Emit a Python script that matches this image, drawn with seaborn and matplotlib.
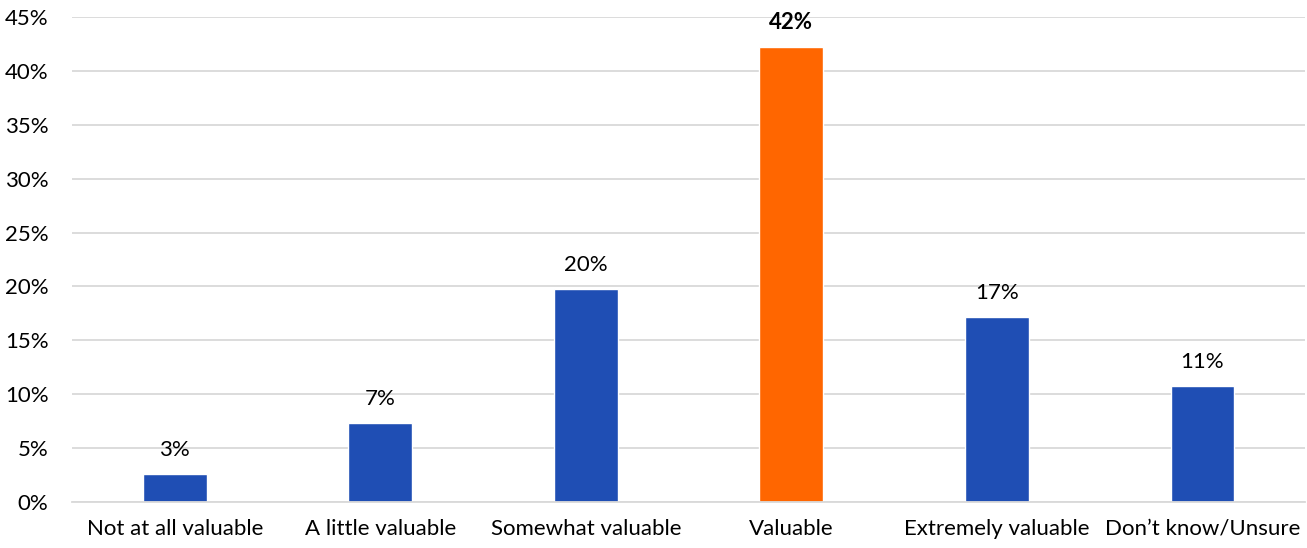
import matplotlib
matplotlib.use("Agg")
import matplotlib.pyplot as plt
import seaborn as sns
import numpy as np

categories = ["Not at all valuable", "A little valuable", "Somewhat valuable",
              "Valuable", "Extremely valuable", "Don\u2019t know/Unsure"]
shares = [2.6, 7.3, 19.8, 42.2, 17.2, 10.8]
highlight = "Valuable"
yticks = [0, 5, 10, 15, 20, 25, 30, 35, 40, 45]

BLUE = "#1F4EB4"
ORANGE = "#FF6600"
GRID = "#D9D9D9"
FS = 16

sns.set_theme(style="white")
plt.rcParams["font.family"] = ["Lato", "DejaVu Sans"]

fig = plt.figure(figsize=(13.07, 5.48), dpi=100)
ax = fig.add_axes([0.0551, 0.0839, 0.9435, 0.885])

palette = {c: (ORANGE if c == highlight else BLUE) for c in categories}
sns.barplot(x=categories, y=shares, hue=categories, palette=palette,
            legend=False, width=0.31, saturation=1, ax=ax)

ax.set_ylim(0, 45)
ax.set_xlim(-0.5, len(categories) - 0.5)
ax.set_yticks(yticks)
ax.set_yticklabels([f"{t}%" for t in yticks])
ax.yaxis.grid(True, color=GRID, linewidth=1.3)
ax.set_axisbelow(True)

for s in ["top", "right", "left"]:
    ax.spines[s].set_visible(False)
ax.spines["bottom"].set_color(GRID)
ax.spines["bottom"].set_linewidth(1.3)

ax.tick_params(axis="y", length=0, pad=17, labelsize=FS, labelcolor="#000000")
ax.tick_params(axis="x", which="major", length=0, pad=12, labelsize=FS, labelcolor="#000000")
ax.set_xticks(np.arange(-0.5, len(categories)), minor=True)
ax.tick_params(axis="x", which="minor", length=6, width=1.3, color=GRID, direction="out")
ax.set_xlabel("")
ax.set_ylabel("")

for i, (c, v) in enumerate(zip(categories, shares)):
    bold = c == highlight
    ax.annotate(f"{v:.0f}%", xy=(i, v), xytext=(0, 10), textcoords="offset points",
                ha="center", va="bottom", fontsize=FS,
                fontweight="bold" if bold else "normal", color="#000000")

fig.savefig("out.png", dpi=100)
